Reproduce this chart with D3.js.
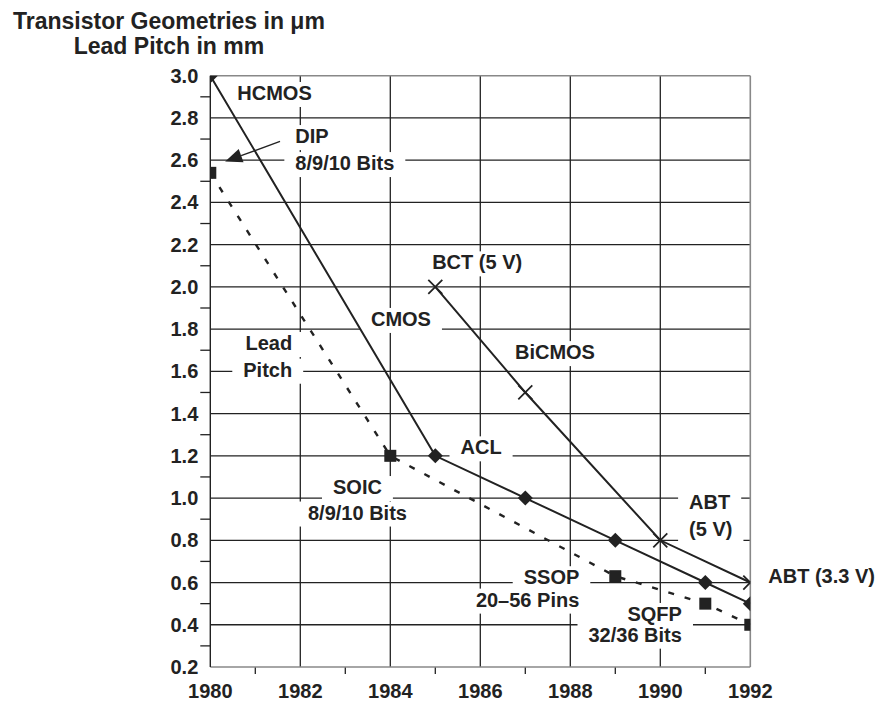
<!DOCTYPE html>
<html><head><meta charset="utf-8">
<script src="https://cdn.jsdelivr.net/npm/d3@7"></script>
<style>
body{margin:0;background:#fff}
text{font-family:"Liberation Sans",Arial,Helvetica,sans-serif;font-weight:bold;fill:#222}
</style>
</head><body>
<svg id="chart" width="883" height="702"></svg>
<script>
// ---- data ----
const xTickLabels = ["1980","1982","1984","1986","1988","1990","1992"];
const yTickLabels = ["0.2","0.4","0.6","0.8","1.0","1.2","1.4","1.6","1.8","2.0","2.2","2.4","2.6","2.8","3.0"];

// HCMOS / CMOS / ACL transistor geometry (µm)
const cmosYears  = [1980, 1985, 1987, 1989, 1991, 1992];
const cmosValues = [3.0, 1.2, 1.0, 0.8, 0.6, 0.5];
// BCT / BiCMOS / ABT transistor geometry (µm)
const bicmosYears  = [1985, 1987, 1990, 1992];
const bicmosValues = [2.0, 1.5, 0.8, 0.6];
// Lead pitch (mm)
const pitchYears  = [1980, 1984, 1989, 1991, 1992];
const pitchValues = [2.54, 1.2, 0.63, 0.5, 0.4];

const titleLines = ["Transistor Geometries in \u03bcm", "Lead Pitch in mm"];

const annotations = [
  {lines:["HCMOS"], x:1980.60, y:2.885, anchor:"start"},
  {lines:["DIP","8/9/10 Bits"], x:1981.89, y:2.681, anchor:"start", dy:27},
  {lines:["BCT (5 V)"], x:1984.93, y:2.083, anchor:"start"},
  {lines:["CMOS"], x:1983.57, y:1.815, anchor:"start"},
  {lines:["BiCMOS"], x:1986.77, y:1.658, anchor:"start"},
  {lines:["Lead","Pitch"], x:1981.82, y:1.701, anchor:"end", dy:26.7},
  {lines:["ACL"], x:1985.56, y:1.207, anchor:"start"},
  {lines:["SOIC","8/9/10 Bits"], x:1983.27, y:1.019, anchor:"middle", dy:25.5},
  {lines:["ABT","(5 V)"], x:1990.64, y:0.947, anchor:"start", dy:27},
  {lines:["SSOP","20\u201356 Pins"], x:1988.20, y:0.592, anchor:"end", dy:22.4},
  {lines:["SQFP","32/36 Bits"], x:1990.48, y:0.418, anchor:"end", dy:20.7},
  {lines:["ABT (3.3 V)"], x:1992.40, y:0.596, anchor:"start", nobox:true}
];
const dipArrowFrom = [1981.55, 2.689];
const dipArrowTo   = [1980.33, 2.594];

// ---- layout ----
const svg = d3.select("#chart");
const L = 210.3, R = 750.3, T = 75.7, B = 667;
const x = d3.scaleLinear().domain([1980, 1992]).range([L, R]);
const y = d3.scaleLinear().domain([0.2, 3.0]).range([B, T]);
const ink = "#222";

svg.append("defs").append("clipPath").attr("id","plot")
  .append("rect").attr("x",L).attr("y",T).attr("width",R-L).attr("height",B-T);

// title
const t1 = svg.append("text").attr("x",13).attr("y",28.5).attr("font-size",23).text(titleLines[0]);
const tb = t1.node().getBBox();
svg.append("text").attr("x",tb.x + tb.width/2).attr("y",54).attr("text-anchor","middle")
  .attr("font-size",23).text(titleLines[1]);

// gridlines
const grid = svg.append("g").attr("stroke",ink).attr("stroke-width",1.3);
xTickLabels.map(Number).filter(v => v > 1980 && v < 1992).forEach(v => {
  grid.append("line").attr("x1",x(v)).attr("x2",x(v)).attr("y1",T).attr("y2",B);
});
yTickLabels.map(Number).filter(v => v > 0.2 && v < 3.0).forEach(v => {
  grid.append("line").attr("x1",L).attr("x2",R).attr("y1",y(v)).attr("y2",y(v));
});

// minor ticks
const yMinor = d3.range(3, 30, 2).map(v => v / 10);
svg.append("g").attr("stroke",ink).attr("stroke-width",1.3)
  .selectAll("line").data(yMinor).join("line")
  .attr("x1",L-10).attr("x2",L).attr("y1",d=>y(d)).attr("y2",d=>y(d));
const xMinor = d3.range(1981, 1992, 2);
svg.append("g").attr("stroke",ink).attr("stroke-width",1.3)
  .selectAll("line").data(xMinor).join("line")
  .attr("x1",d=>x(d)).attr("x2",d=>x(d)).attr("y1",B).attr("y2",B+7);

// label boxes + text
const boxG = svg.append("g");
const textG = svg.append("g").attr("class","labels");
const textNodes = [];
annotations.forEach(a => {
  a.lines.forEach((s, i) => {
    const t = textG.append("text")
      .attr("x", x(a.x)).attr("y", y(a.y) + i * (a.dy || 0))
      .attr("text-anchor", a.anchor).attr("font-size", 20).text(s);
    if (!a.nobox) textNodes.push(t);
  });
});
textNodes.forEach(t => {
  const bb = t.node().getBBox();
  const base = +t.attr("y");
  boxG.append("rect").attr("x", bb.x - 11).attr("width", bb.width + 22)
    .attr("y", base - 18).attr("height", 25).attr("fill", "#fff");
});

// plot frame
svg.append("line").attr("x1",L).attr("x2",R).attr("y1",T).attr("y2",T).attr("stroke","#888").attr("stroke-width",1.6);
svg.append("line").attr("x1",R).attr("x2",R).attr("y1",T).attr("y2",B).attr("stroke","#888").attr("stroke-width",1.6);
svg.append("line").attr("x1",L).attr("x2",R).attr("y1",B).attr("y2",B).attr("stroke","#888").attr("stroke-width",1.6);
svg.append("line").attr("x1",L).attr("x2",L).attr("y1",T).attr("y2",B).attr("stroke",ink).attr("stroke-width",1.4);

// axis labels
svg.append("g").selectAll("text").data(yTickLabels).join("text")
  .attr("x", L - 12).attr("y", d => y(+d)).attr("dy", "0.35em")
  .attr("text-anchor","end").attr("font-size",20).text(d => d);
svg.append("g").selectAll("text").data(xTickLabels).join("text")
  .attr("x", d => x(+d)).attr("y", 698)
  .attr("text-anchor","middle").attr("font-size",20).text(d => d);

// series
const plot = svg.append("g").attr("clip-path","url(#plot)");
const line = d3.line().x(d => x(d[0])).y(d => y(d[1]));
const pitch = d3.zip(pitchYears, pitchValues);
const cmos = d3.zip(cmosYears, cmosValues);
const bicmos = d3.zip(bicmosYears, bicmosValues);

plot.append("path").datum(pitch).attr("d", line).attr("fill","none")
  .attr("stroke",ink).attr("stroke-width",2.4).attr("stroke-dasharray","6,11");
plot.append("path").datum(cmos).attr("d", line).attr("fill","none")
  .attr("stroke",ink).attr("stroke-width",2);
plot.append("path").datum(bicmos).attr("d", line).attr("fill","none")
  .attr("stroke",ink).attr("stroke-width",2);

// markers
plot.append("g").selectAll("rect").data(pitch).join("rect")
  .attr("x", d => x(d[0]) - 6).attr("y", d => y(d[1]) - 6)
  .attr("width", 12).attr("height", 12).attr("fill", ink);
plot.append("g").selectAll("path").data(cmos).join("path")
  .attr("d", d => { const cx = x(d[0]), cy = y(d[1]), r = 7.5;
    return `M${cx},${cy-r}L${cx+r},${cy}L${cx},${cy+r}L${cx-r},${cy}Z`; })
  .attr("fill", ink);
plot.append("g").selectAll("path").data(bicmos).join("path")
  .attr("d", d => { const cx = x(d[0]), cy = y(d[1]), r = 7;
    return `M${cx-r},${cy-r}L${cx+r},${cy+r}M${cx-r},${cy+r}L${cx+r},${cy-r}`; })
  .attr("stroke", ink).attr("stroke-width", 1.8).attr("fill","none");

// DIP arrow
const ax1 = x(dipArrowFrom[0]), ay1 = y(dipArrowFrom[1]);
const ax2 = x(dipArrowTo[0]), ay2 = y(dipArrowTo[1]);
const ang = Math.atan2(ay2 - ay1, ax2 - ax1);
const hl = 17, hw = 7;
const bx = ax2 - hl * Math.cos(ang), by = ay2 - hl * Math.sin(ang);
svg.append("line").attr("x1",ax1).attr("y1",ay1).attr("x2",bx).attr("y2",by)
  .attr("stroke",ink).attr("stroke-width",1.4);
svg.append("path").attr("fill",ink).attr("d",
  `M${ax2},${ay2}L${bx + hw*Math.sin(ang)},${by - hw*Math.cos(ang)}L${bx - hw*Math.sin(ang)},${by + hw*Math.cos(ang)}Z`);
</script>
</body></html>
